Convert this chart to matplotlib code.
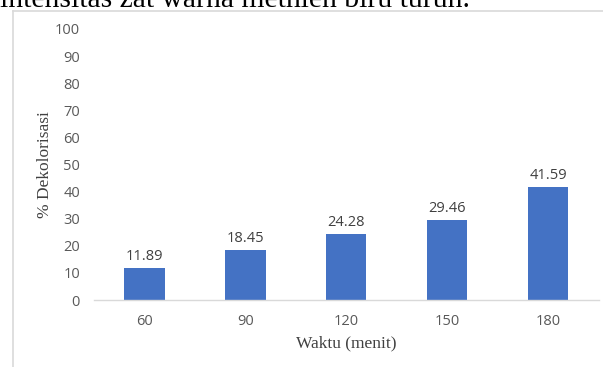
import matplotlib
matplotlib.use("Agg")
import matplotlib.pyplot as plt
from matplotlib.lines import Line2D

# data
waktu = ["60", "90", "120", "150", "180"]
dekolorisasi = [11.89, 18.45, 24.28, 29.46, 41.59]
yticks = [0, 10, 20, 30, 40, 50, 60, 70, 80, 90, 100]

W, H = 603, 367
fig = plt.figure(figsize=(W / 100, H / 100), dpi=100)
ax = fig.add_axes([94 / W, 1 - 300 / H, (598.5 - 94) / W, (300 - 29) / H])

x = range(len(waktu))
bars = ax.bar(x, dekolorisasi, width=0.4, color="#4472C4", zorder=2)
for xi, v in zip(x, dekolorisasi):
    ax.annotate(f"{v:.2f}", (xi, v), xytext=(0, 3), textcoords="offset points",
                ha="center", va="bottom", fontsize=10.5, color="#404040",
                family="Open Sans")

ax.set_xlim(-0.5, len(waktu) - 0.5)
ax.set_ylim(0, 100)
ax.set_yticks(yticks)
ax.set_xticks(list(x))
ax.set_xticklabels(waktu)
for lab in ax.get_xticklabels() + ax.get_yticklabels():
    lab.set_family("Open Sans")
    lab.set_fontsize(10.5)
    lab.set_color("#595959")
ax.tick_params(axis="y", length=0, pad=10)
ax.tick_params(axis="x", length=0, pad=10)

for s in ["top", "right", "left"]:
    ax.spines[s].set_visible(False)
ax.spines["bottom"].set_color("#D9D9D9")
ax.spines["bottom"].set_linewidth(1.0)

ax.set_xlabel("Waktu (menit)", family="Liberation Serif", fontsize=12.5,
              color="#404040", labelpad=5)
ax.set_ylabel("% Dekolorisasi", family="Liberation Serif", fontsize=12.5,
              color="#404040", labelpad=1.5)

# border of the chart area
fig.add_artist(Line2D([12.5 / W, 12.5 / W], [0, 1 - 10.5 / H],
                      transform=fig.transFigure, color="#D9D9D9", lw=1.2))
fig.add_artist(Line2D([12.5 / W, 1], [1 - 10.5 / H, 1 - 10.5 / H],
                      transform=fig.transFigure, color="#D9D9D9", lw=1.2))

# preceding sentence of the document, cut off at the top
fig.text(0, 1 - 7 / H, "intensitas zat warna methlen biru turun.",
         family="Liberation Serif", fontsize=21.3, color="black",
         ha="left", va="baseline")

fig.savefig("out.png", dpi=100)
